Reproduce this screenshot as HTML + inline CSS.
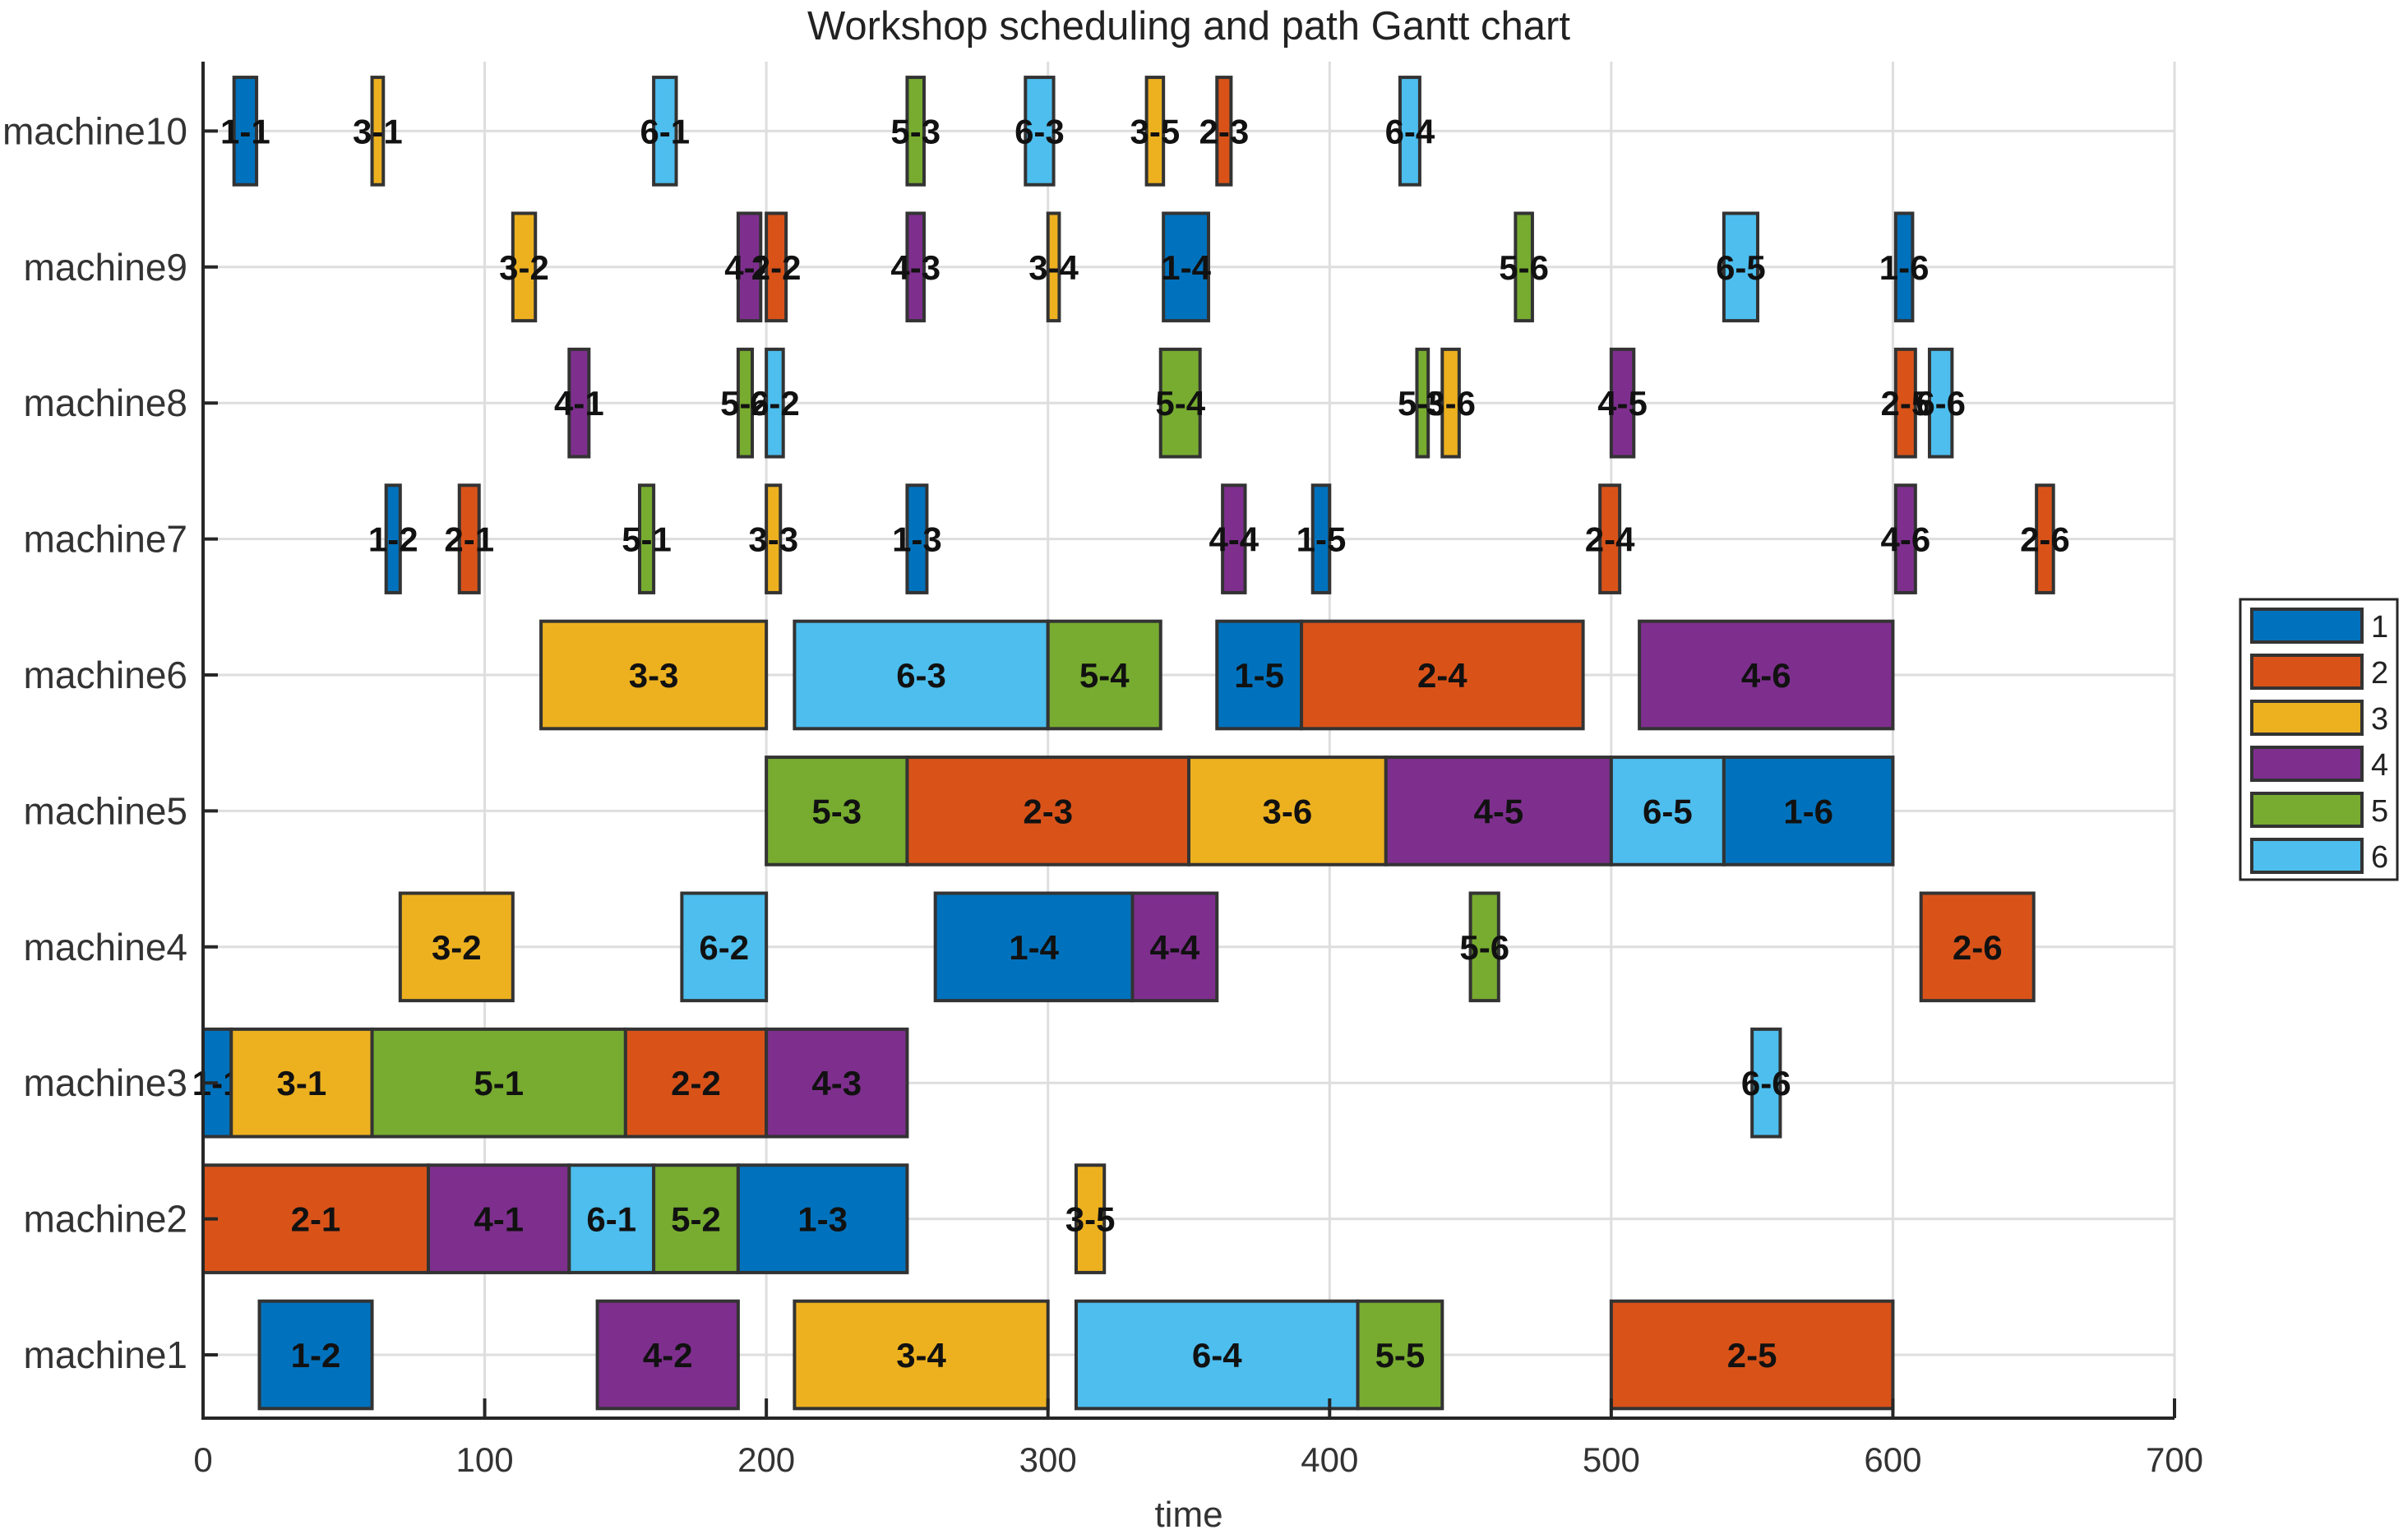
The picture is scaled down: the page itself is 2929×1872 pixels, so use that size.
<!DOCTYPE html>
<html><head><meta charset="utf-8"><style>html,body{margin:0;padding:0;background:#fff}svg{display:block}text{font-family:"Liberation Sans",Arial,sans-serif}</style></head>
<body>
<svg id="chart" xmlns="http://www.w3.org/2000/svg" width="2929" height="1872" viewBox="0 0 2929 1872">
<text x="1446" y="48" font-size="49" text-anchor="middle" fill="#222">Workshop scheduling and path Gantt chart</text>
<g id="grid"></g>
<g id="bars"></g>
<g id="axes"></g>
<text x="1446" y="1857" font-size="44" text-anchor="middle" fill="#333">time</text>
<g id="legend"></g>
</svg>
<script>
const machineLabels = ["machine1","machine2","machine3","machine4","machine5","machine6","machine7","machine8","machine9","machine10"];
const xTicks = [0,100,200,300,400,500,600,700];
const legendLabels = ["1","2","3","4","5","6"];
const colors = ["#0072BD","#D95319","#EDB120","#7E2F8E","#77AC30","#4DBEEE"];
// [machine, job, op, start, end]
const tasks = [
[1,1,2,20,60],[1,4,2,140,190],[1,3,4,210,300],[1,6,4,310,410],[1,5,5,410,440],[1,2,5,500,600],
[2,2,1,0,80],[2,4,1,80,130],[2,6,1,130,160],[2,5,2,160,190],[2,1,3,190,250],[2,3,5,310,320],
[3,1,1,0,10],[3,3,1,10,60],[3,5,1,60,150],[3,2,2,150,200],[3,4,3,200,250],[3,6,6,550,560],
[4,3,2,70,110],[4,6,2,170,200],[4,1,4,260,330],[4,4,4,330,360],[4,5,6,450,460],[4,2,6,610,650],
[5,5,3,200,250],[5,2,3,250,350],[5,3,6,350,420],[5,4,5,420,500],[5,6,5,500,540],[5,1,6,540,600],
[6,3,3,120,200],[6,6,3,210,300],[6,5,4,300,340],[6,1,5,360,390],[6,2,4,390,490],[6,4,6,510,600],
[7,1,2,65,70],[7,2,1,91,98],[7,5,1,155,160],[7,3,3,200,205],[7,1,3,250,257],[7,4,4,362,370],[7,1,5,394,400],[7,2,4,496,503],[7,4,6,601,608],[7,2,6,651,657],
[8,4,1,130,137],[8,5,2,190,195],[8,6,2,200,206],[8,5,4,340,354],[8,5,5,431,435],[8,3,6,440,446],[8,4,5,500,508],[8,2,5,601,608],[8,6,6,613,621],
[9,3,2,110,118],[9,4,2,190,198],[9,2,2,200,207],[9,4,3,250,256],[9,3,4,300,304],[9,1,4,341,357],[9,5,6,466,472],[9,6,5,540,552],[9,1,6,601,607],
[10,1,1,11,19],[10,3,1,60,64],[10,6,1,160,168],[10,5,3,250,256],[10,6,3,292,302],[10,3,5,335,341],[10,2,3,360,365],[10,6,4,425,432]
];
const NS="http://www.w3.org/2000/svg";
const X0=247,X1=2645,YT=75,YB=1725;
function xs(t){return X0+(t-0)/(700)*(X1-X0);}
function ys(m){return 1648-(m-1)*165.4;}
const BH=0.79*165.4;
function mk(tag,attrs,parent){const e=document.createElementNS(NS,tag);for(const k in attrs)e.setAttribute(k,attrs[k]);parent.appendChild(e);return e;}
const grid=document.getElementById('grid'),bars=document.getElementById('bars'),axes=document.getElementById('axes'),legend=document.getElementById('legend');
xTicks.forEach(t=>{const l=mk('line',{x1:xs(t),x2:xs(t),y1:YT,y2:YB,stroke:'#dedede','stroke-width':3},grid);

});
machineLabels.forEach((lab,i)=>{const y=ys(i+1);const l=mk('line',{x1:X0,x2:X1,y1:y,y2:y,stroke:'#dedede','stroke-width':3},grid);


const tk=mk('line',{x1:X0,x2:X0+18,y1:y,y2:y,stroke:'#262626','stroke-width':4},axes);


const tx=mk('text',{x:228,y:y+16,'font-size':46,'text-anchor':'end',fill:'#333'},axes);tx.textContent=lab;

});
tasks.forEach(d=>{const [m,j,o,s,e]=d;const y=ys(m);const x=xs(s),w=xs(e)-xs(s);
const r=mk('rect',{x:x,y:y-BH/2,width:w,height:BH,fill:colors[j-1],stroke:'#333','stroke-width':4},bars);


const t=mk('text',{x:x+w/2,y:y+15,'font-size':42,'font-weight':'bold','text-anchor':'middle',fill:'#111'},bars);t.textContent=j+'-'+o;

});
const ax=mk('path',{d:`M${X0},${YT} L${X0},${YB} L${X1},${YB}`,fill:'none',stroke:'#262626','stroke-width':4},axes);


xTicks.forEach(t=>{const tk=mk('line',{x1:xs(t),x2:xs(t),y1:YB,y2:YB-24,stroke:'#262626','stroke-width':4},axes);


const tx=mk('text',{x:xs(t),y:1790,'font-size':42,'text-anchor':'middle',fill:'#333'},axes);tx.textContent=t;

});
const lb=mk('rect',{x:2725,y:729,width:191,height:341,fill:'#fff',stroke:'#262626','stroke-width':3},legend);


legendLabels.forEach((lab,i)=>{const cy=761+i*56;
const s=mk('rect',{x:2739,y:cy-20,width:134,height:40,fill:colors[i],stroke:'#333','stroke-width':4},legend);


const t=mk('text',{x:2884,y:cy+14,'font-size':38,fill:'#222'},legend);t.textContent=lab;

});
</script>
</body></html>
